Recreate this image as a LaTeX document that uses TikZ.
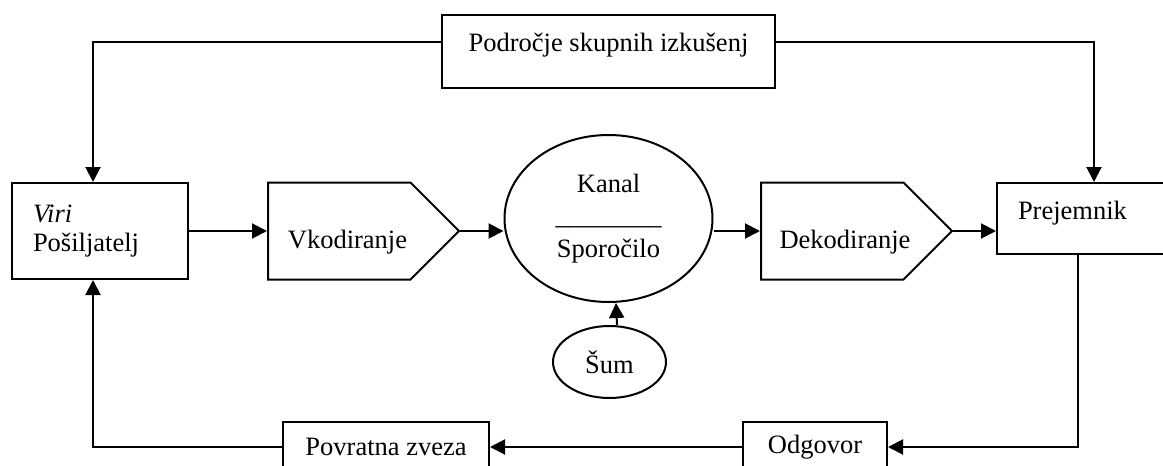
\documentclass[tikz,border=0pt]{standalone}
\usepackage{fontspec}
\setmainfont{Liberation Serif}
\usepackage{tikz}
\usetikzlibrary{arrows.meta, shapes.symbols, shapes.geometric, calc, positioning}

\tikzset{
    blok/.style={draw, rectangle, inner sep=0pt},
    kod/.style={draw, signal, signal to=east, signal pointer angle=90, inner sep=0pt,
        minimum width=95.5pt, minimum height=48.5pt, anchor=west}
}

\begin{document}
\begin{tikzpicture}[x=0.5pt, y=-0.5pt, line width=1pt, >={Triangle[length=7.5pt,width=7.5pt]},
        every node/.style={font=\fontsize{13.25}{16.25}\selectfont}]
                        \useasboundingbox (0,0) rectangle (1163,466);

                        \node[blok, minimum width=166.5pt, minimum height=36.5pt, text height=18pt, text depth=18.5pt] (izk) at (608.5, 51.5) {Področje skupnih izkušenj};
                        \node[blok, minimum width=88pt, minimum height=48pt, text width=67pt, align=left, font=\fontsize{13.25}{14.5}\selectfont] (viri) at (100, 231) {\textit{Viri}\\Pošiljatelj};
                        \node[blok, minimum width=97pt, minimum height=35.5pt, text width=76pt, align=left, text height=18pt, text depth=17.5pt] (prej) at (1094, 218.5) {Prejemnik};

                        \node[kod] (vk) at (267, 231) {};
                        \node (vktxt) at (347.5, 242) {Vkodiranje};
                        \node[kod] (dek) at (760, 231) {};
                        \node (dektxt) at (845, 242) {Dekodiranje};

                        \node[draw, ellipse, minimum width=104pt, minimum height=83.5pt, inner sep=0pt, align=center] (kanal) at (608.5, 218.5) {Kanal\\\_\_\_\_\_\_\_\_\\Sporočilo};
                        \node[draw, ellipse, minimum width=56.5pt, minimum height=36pt, inner sep=0pt] (sum) at (609.5, 362) {Šum};

                        \node[blok, minimum width=72pt, minimum height=25pt] (odg) at (815, 447) {Odgovor};
                        \node[blok, minimum width=103pt, minimum height=25pt] (povr) at (386, 447) {Povratna zveza};

                        \draw[->] ([yshift=4.75pt]izk.west) -| ([xshift=-3.5pt]viri.north);
                        \draw[->] ([yshift=4.75pt]izk.east) -| (prej.north);
                        \draw
                        (viri.east) edge[->] (vk.west)
                        (vk.east) edge[->] (vk.east -| kanal.west)
                        (dek.west -| kanal.east) edge[->] (dek.west)
                        ([xshift=3.75pt]sum.north) edge[->] ([xshift=3.75pt]kanal.south)
                        (dek.east) edge[->] (dek.east -| prej.west)
                        (odg.west) edge[->] (povr.east);
                        \draw[->] ([xshift=-8pt]prej.south) |- (odg.east);
                        \draw[->] (povr.west) -| ([xshift=-3.5pt]viri.south);
                    \end{tikzpicture}
\end{document}
